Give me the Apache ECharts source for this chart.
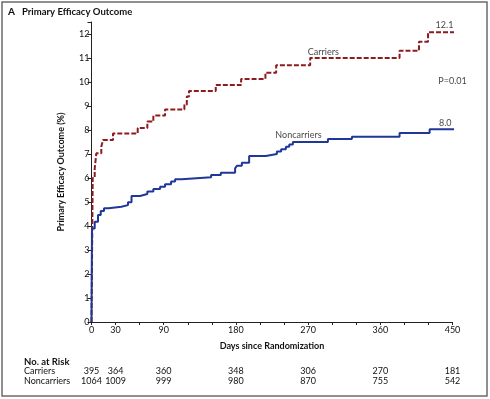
<!DOCTYPE html>
<html>
<head>
<meta charset="utf-8">
<script src="https://cdn.jsdelivr.net/npm/echarts@6/dist/echarts.min.js"></script>
<style>
  html, body { margin: 0; padding: 0; background: #fff; }
  #chart { width: 490px; height: 399px; }
</style>
</head>
<body>
<div id="chart"></div>
<script>
// Kaplan-Meier style step curves
const carriersDays = [0, 1.5, 4, 6, 12.2, 14.3, 26.8, 57.6, 69.6, 77.1, 91.7, 115.8, 118.8, 121.6, 154.9, 186.5, 216.8, 230.2, 272.6, 384, 408.2, 419.5, 462]
const carriersRate = [0, 6.0, 6.4, 7.03, 7.3, 7.58, 7.85, 8.08, 8.35, 8.6, 8.85, 9.05, 9.4, 9.62, 9.87, 10.13, 10.39, 10.7, 11.0, 11.3, 11.68, 12.07, 12.07]

const noncarriersDays = [0, 0.6, 4, 8.1, 11.5, 15.6, 21.5, 37.2, 45.5, 49.9, 60.5, 69.6, 77.1, 85.5, 91.7, 99.2, 104.2, 112.5, 149.1, 161.2, 179, 181.2, 187.4, 196.5, 217.3, 231.1, 236.4, 242.3, 246.5, 251, 294.7, 324.6, 384, 421.5, 467]
const noncarriersRate = [0, 3.9, 4.18, 4.46, 4.62, 4.74, 4.8, 4.87, 4.99, 5.25, 5.33, 5.44, 5.54, 5.64, 5.74, 5.85, 5.95, 6.03, 6.12, 6.22, 6.4, 6.51, 6.64, 6.92, 7.0, 7.1, 7.2, 7.3, 7.4, 7.5, 7.62, 7.72, 7.87, 8.03, 8.03]

// x-axis labelled days and numbers at risk
const tickDays = [0, 30, 90, 180, 270, 360, 450]
const riskCarriers = [395, 364, 360, 348, 306, 270, 181]
const riskNoncarriers = [1064, 1009, 999, 980, 870, 755, 542]

// in-plot annotations [day, percent, text]
const notes = [
  [289, 11.25, 'Carriers'],
  [258, 7.8, 'Noncarriers'],
  [440, 12.37, '12.1'],
  [441, 8.29, '8.0'],
  [450, 10.04, 'P=0.01'],
]

const FONT = 'Lato'
const RED = '#8e1b1f'
const BLUE = '#1f3797'

function zip(xs, ys) {
  return xs.map((x, i) => [x, ys[i]])
}

function riskLabel(arr) {
  return function (v) {
    const i = tickDays.indexOf(v)
    return i >= 0 ? String(arr[i]) : ''
  }
}

function riskAxis(arr, offset) {
  return {
    type: 'value', min: 0, max: 450, interval: 30, position: 'bottom', offset: offset,
    axisLine: { show: false }, axisTick: { show: false }, splitLine: { show: false },
    axisLabel: { margin: 0, fontFamily: FONT, fontSize: 9, color: '#111', formatter: riskLabel(arr) },
  }
}

const myChart = echarts.init(document.getElementById('chart'))

let option = {
  animation: false,
  grid: { left: 91.5, right: 37.5, top: 22, bottom: 77, containLabel: false },
  xAxis: [
    {
      type: 'value', min: 0, max: 450, interval: 30,
      name: 'Days since Randomization', nameLocation: 'middle', nameGap: 20,
      nameTextStyle: { fontFamily: FONT, fontSize: 9, fontWeight: 'bold', color: '#111' },
      axisLine: { lineStyle: { color: '#222', width: 1 } },
      axisTick: { length: 3, lineStyle: { color: '#222' } },
      splitLine: { show: false },
      axisLabel: {
        margin: 4, fontFamily: FONT, fontSize: 9, color: '#111',
        formatter: v => (tickDays.indexOf(v) >= 0 ? String(v) : ''),
      },
    },
    riskAxis(riskCarriers, 45),
    riskAxis(riskNoncarriers, 55),
  ],
  yAxis: {
    type: 'value', min: 0, max: 12.5, interval: 1,
    name: 'Primary Efficacy Outcome (%)', nameLocation: 'middle', nameGap: 26, nameRotate: 90,
    nameTextStyle: { fontFamily: FONT, fontSize: 9, fontWeight: 'bold', color: '#111' },
    axisLine: { show: true, lineStyle: { color: '#222', width: 1 } },
    axisTick: { show: true, length: 4, lineStyle: { color: '#222' } },
    splitLine: { show: false },
    axisLabel: {
      margin: 2, fontFamily: FONT, fontSize: 9, color: '#111',
      formatter: v => (v % 1 === 0 ? String(v) : ''),
    },
  },
  series: [
    {
      name: 'Carriers', type: 'line', step: 'end', symbol: 'none', clip: false,
      data: zip(carriersDays, carriersRate),
      lineStyle: { color: RED, width: 2, type: [5, 2] },
    },
    {
      name: 'Noncarriers', type: 'line', step: 'end', symbol: 'none', clip: false,
      data: zip(noncarriersDays, noncarriersRate),
      lineStyle: { color: BLUE, width: 2 },
    },
    {
      type: 'scatter', symbolSize: 0, clip: false, silent: true,
      data: notes.map(n => ({ value: [n[0], n[1]], name: n[2] })),
      label: {
        show: true, position: 'inside', formatter: p => p.name,
        fontFamily: FONT, fontSize: 9, color: '#111',
      },
    },
  ],
  graphic: [
    { type: 'rect', shape: { x: 2, y: 2, width: 485, height: 394 }, style: { fill: 'none', stroke: '#6b6b6b', lineWidth: 1.5 } },
    { type: 'text', left: 8, top: 7, style: { text: 'A', font: 'bold 10px Lato', fill: '#111' } },
    { type: 'text', left: 22, top: 7, style: { text: 'Primary Efficacy Outcome', font: 'bold 9.5px Lato', fill: '#111' } },
    { type: 'text', left: 24, top: 357, style: { text: 'No. at Risk', font: 'bold 9.5px Lato', fill: '#111' } },
    { type: 'text', left: 24, top: 367, style: { text: 'Carriers', font: '9px Lato', fill: '#111' } },
    { type: 'text', left: 24, top: 377, style: { text: 'Noncarriers', font: '9px Lato', fill: '#111' } },
  ],
}
myChart.setOption(option)

window.addEventListener('resize', function () {
  myChart.resize()
})
</script>
</body>
</html>
